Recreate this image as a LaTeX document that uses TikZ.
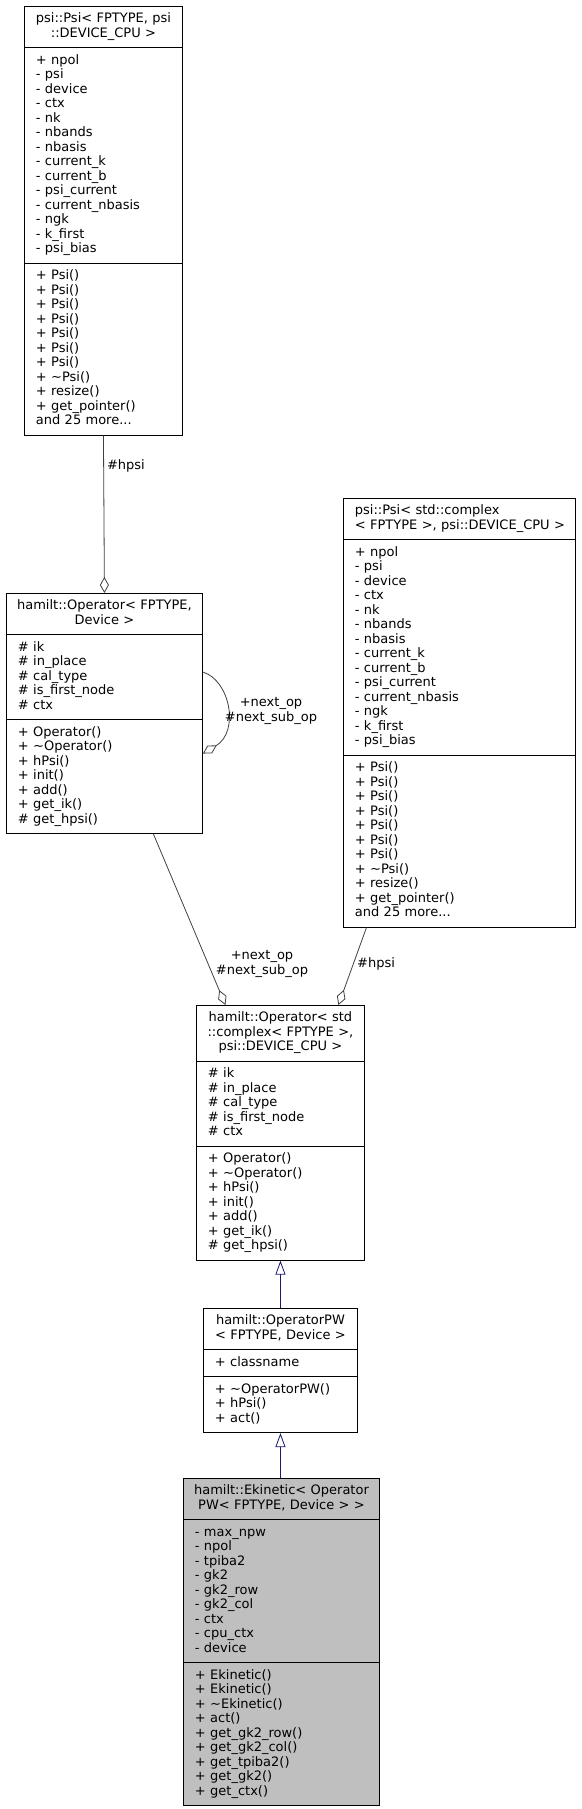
\documentclass[tikz,border=0pt]{standalone}
\usepackage{fontspec}
\setmainfont{DejaVu Sans}
\definecolor{EdgeGray}{RGB}{64,64,64}
\definecolor{InheritBlue}{RGB}{25,25,112}
\definecolor{FocusGray}{RGB}{191,191,191}
\usetikzlibrary{arrows.meta, shapes.multipart, positioning}

\newcommand{\sect}[1]{\leftskip=5.5pt\strut#1\strut\par}
\newcommand{\ctitle}[1]{\centering\strut#1\strut\par}
\newcommand{\psiattrs}{\sect{+ npol\\- psi\\- device\\- ctx\\- nk\\- nbands\\- nbasis\\- current\_k\\- current\_b\\- psi\_current\\- current\_nbasis\\- ngk\\- k\_first\\- psi\_bias}}
\newcommand{\psimeths}{\sect{+ Psi()\\+ Psi()\\+ Psi()\\+ Psi()\\+ Psi()\\+ Psi()\\+ Psi()\\+ \textasciitilde Psi()\\+ resize()\\+ get\_pointer()\\and 25 more...}}
\newcommand{\opattrs}{\sect{\# ik\\\# in\_place\\\# cal\_type\\\# is\_first\_node\\\# ctx}}
\newcommand{\opmeths}{\sect{+ Operator()\\+ \textasciitilde Operator()\\+ hPsi()\\+ init()\\+ add()\\+ get\_ik()\\\# get\_hpsi()}}

\begin{document}
\begin{tikzpicture}[x=1pt, y=-1pt,
    cls/.style={rectangle split, rectangle split parts=3, draw=black, line width=0.9pt,
      fill=white, font=\fontsize{13}{14.5}\selectfont, inner xsep=6pt, inner ysep=5.75pt,
      text width=#1, align=left, anchor=north west},
    aggr/.style={{Diamond[open, length=16pt, width=9pt]}-, EdgeGray, line width=0.8pt},
    inh/.style={{Triangle[open, length=14pt, width=10pt]}-, InheritBlue, line width=0.8pt},
    lbl/.style={font=\fontsize{13}{14.5}\selectfont, text=black, align=center, inner sep=0pt}]
  \useasboundingbox (0,0) rectangle (581,1809);

  \node[cls=146pt] (psiA) at (24,6)
    {\ctitle{psi::Psi< FPTYPE, psi\\::DEVICE\_CPU >}\nodepart{two}\psiattrs\nodepart{three}\psimeths};
  \node[cls=184pt] (opB) at (6,593)
    {\ctitle{hamilt::Operator< FPTYPE,\\Device >}\nodepart{two}\opattrs\nodepart{three}\opmeths};
  \node[cls=220pt] (psiC) at (343,498)
    {\sect{psi::Psi< std::complex\\< FPTYPE >, psi::DEVICE\_CPU >}\nodepart{two}\psiattrs\nodepart{three}\psimeths};
  \node[cls=156pt] (opD) at (196,1005)
    {\ctitle{hamilt::Operator< std\\::complex< FPTYPE >,\\psi::DEVICE\_CPU >}\nodepart{two}\opattrs\nodepart{three}\opmeths};
  \node[cls=142pt] (opPW) at (203,1308)
    {\ctitle{hamilt::OperatorPW\\< FPTYPE, Device >}\nodepart{two}\sect{+ classname}
     \nodepart{three}\sect{+ \textasciitilde OperatorPW()\\+ hPsi()\\+ act()}};
  \node[cls=184pt, fill=FocusGray] (ekin) at (183,1478)
    {\ctitle{hamilt::Ekinetic< Operator\\PW< FPTYPE, Device > >}
     \nodepart{two}\sect{- max\_npw\\- npol\\- tpiba2\\- gk2\\- gk2\_row\\- gk2\_col\\- ctx\\- cpu\_ctx\\- device}
     \nodepart{three}\sect{+ Ekinetic()\\+ Ekinetic()\\+ \textasciitilde Ekinetic()\\+ act()\\+ get\_gk2\_row()\\+ get\_gk2\_col()\\+ get\_tpiba2()\\+ get\_gk2()\\+ get\_ctx()}};

  \draw[aggr] (opB.north) -- node[lbl, right=3pt, pos=0.81] (hpsiA) {\#hpsi} (psiA.south);
  \draw[aggr] ([yshift=-40pt]opB.east) .. controls +(37,-22) and +(27,8) .. ([yshift=41.5pt]opB.east);
  \node[lbl] (nextB) at (271,711) {+next\_op\\\#next\_sub\_op};

  \draw[aggr] ([xshift=-55pt]opD.north) -- ([xshift=49pt]opB.south);
  \draw[aggr] ([xshift=58pt]opD.north) -- ([xshift=-93pt]psiC.south);
  \node[lbl] (nextD) at (262,964) {+next\_op\\\#next\_sub\_op};
  \node[lbl, anchor=west] (hpsiC) at (357,964) {\#hpsi};

  \draw[inh] (opD.south) -- (opPW.north);
  \draw[inh] (opPW.south) -- (opPW.south |- ekin.north);
\end{tikzpicture}
\end{document}
